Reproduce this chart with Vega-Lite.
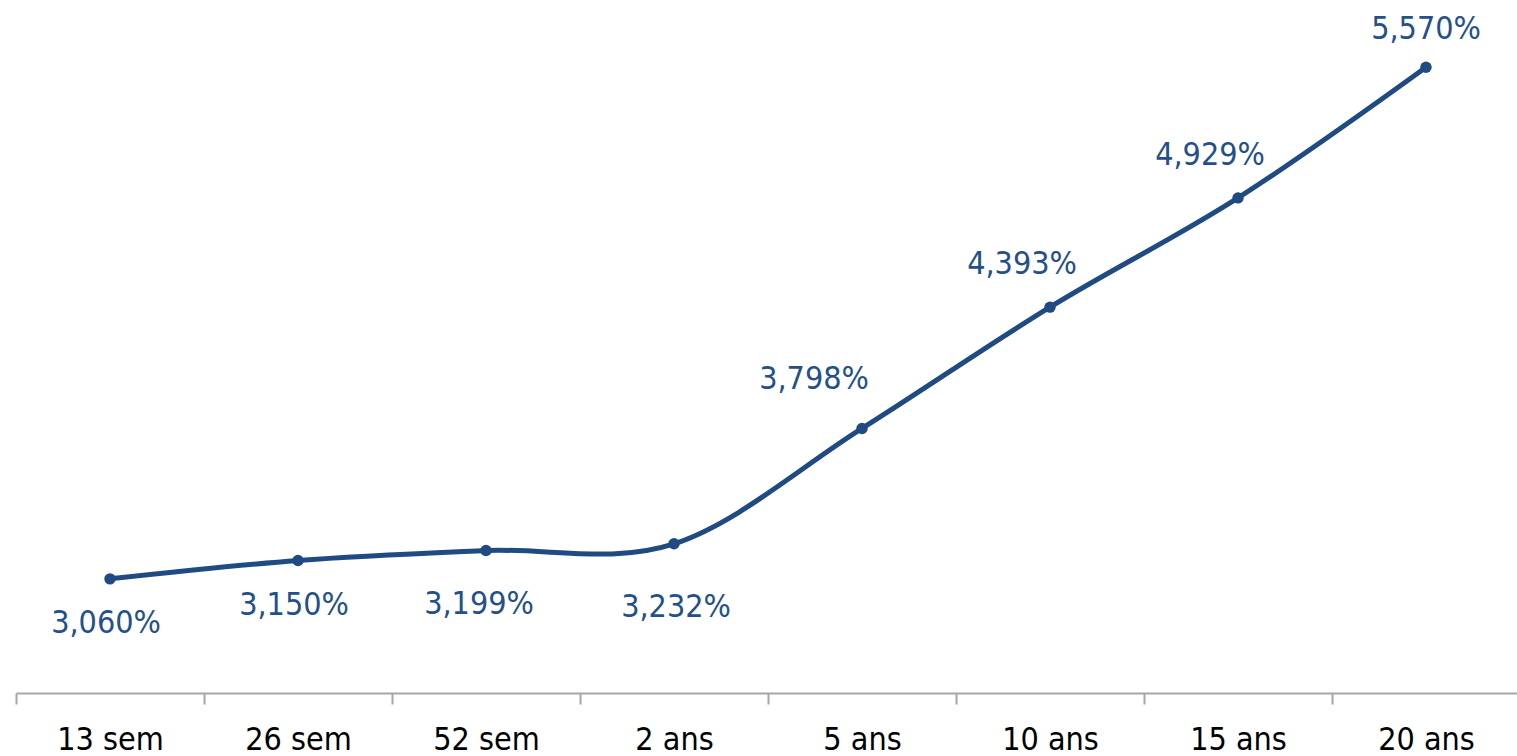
{
  "$schema": "https://vega.github.io/schema/vega-lite/v6.json",
  "autosize": {"type": "none"},
  "width": 1504,
  "height": 693,
  "padding": {"left": 16, "top": 0, "right": 0, "bottom": 63},
  "background": "white",
  "config": {"view": {"stroke": null}, "font": "DejaVu Sans Condensed, sans-serif"},
  "data": {"values": [
    {"maturite": "13 sem", "taux": 3.060, "label": "3,060%"},
    {"maturite": "26 sem", "taux": 3.150, "label": "3,150%"},
    {"maturite": "52 sem", "taux": 3.199, "label": "3,199%"},
    {"maturite": "2 ans", "taux": 3.232, "label": "3,232%"},
    {"maturite": "5 ans", "taux": 3.798, "label": "3,798%"},
    {"maturite": "10 ans", "taux": 4.393, "label": "4,393%"},
    {"maturite": "15 ans", "taux": 4.929, "label": "4,929%"},
    {"maturite": "20 ans", "taux": 5.570, "label": "5,570%"}
  ]},
  "encoding": {
    "x": {"field": "maturite", "type": "nominal", "sort": null,
      "scale": {"type": "band", "paddingInner": 0, "paddingOuter": 0},
      "axis": {"title": null, "labelAngle": 0, "labelFontSize": 32, "labelColor": "#000000",
        "labelFont": "DejaVu Sans Condensed, sans-serif",
        "domainColor": "#a6a6a6", "domainWidth": 2, "tickColor": "#a6a6a6", "tickWidth": 2,
        "tickSize": 11, "tickBand": "extent", "labelPadding": 20, "grid": false}},
    "y": {"field": "taux", "type": "quantitative", "scale": {"domain": [2.5, 5.9], "zero": false, "nice": false}, "axis": null}
  },
  "layer": [
    {"mark": {"type": "line", "interpolate": "cardinal", "color": "#1f4a82", "strokeWidth": 5}},
    {"mark": {"type": "point", "filled": true, "opacity": 1, "size": 130, "color": "#1f4a82"}},
    {"transform": [{"filter": {"field": "maturite", "oneOf": ["13 sem", "26 sem"]}}],
     "mark": {"type": "text", "fontSize": 32, "color": "#24508a", "dx": -4, "dy": 44, "baseline": "middle", "align": "center"},
     "encoding": {"text": {"field": "label"}}},
    {"transform": [{"filter": {"field": "maturite", "equal": "52 sem"}}],
     "mark": {"type": "text", "fontSize": 32, "color": "#24508a", "dx": -7, "dy": 53, "baseline": "middle", "align": "center"},
     "encoding": {"text": {"field": "label"}}},
    {"transform": [{"filter": {"field": "maturite", "equal": "2 ans"}}],
     "mark": {"type": "text", "fontSize": 32, "color": "#24508a", "dx": 2, "dy": 63, "baseline": "middle", "align": "center"},
     "encoding": {"text": {"field": "label"}}},
    {"transform": [{"filter": {"field": "maturite", "equal": "5 ans"}}],
     "mark": {"type": "text", "fontSize": 32, "color": "#24508a", "dx": -48, "dy": -49, "baseline": "middle", "align": "center"},
     "encoding": {"text": {"field": "label"}}},
    {"transform": [{"filter": {"field": "maturite", "oneOf": ["10 ans", "15 ans"]}}],
     "mark": {"type": "text", "fontSize": 32, "color": "#24508a", "dx": -28, "dy": -43, "baseline": "middle", "align": "center"},
     "encoding": {"text": {"field": "label"}}},
    {"transform": [{"filter": {"field": "maturite", "equal": "20 ans"}}],
     "mark": {"type": "text", "fontSize": 32, "color": "#24508a", "dx": 0, "dy": -38, "baseline": "middle", "align": "center"},
     "encoding": {"text": {"field": "label"}}}
  ]
}
